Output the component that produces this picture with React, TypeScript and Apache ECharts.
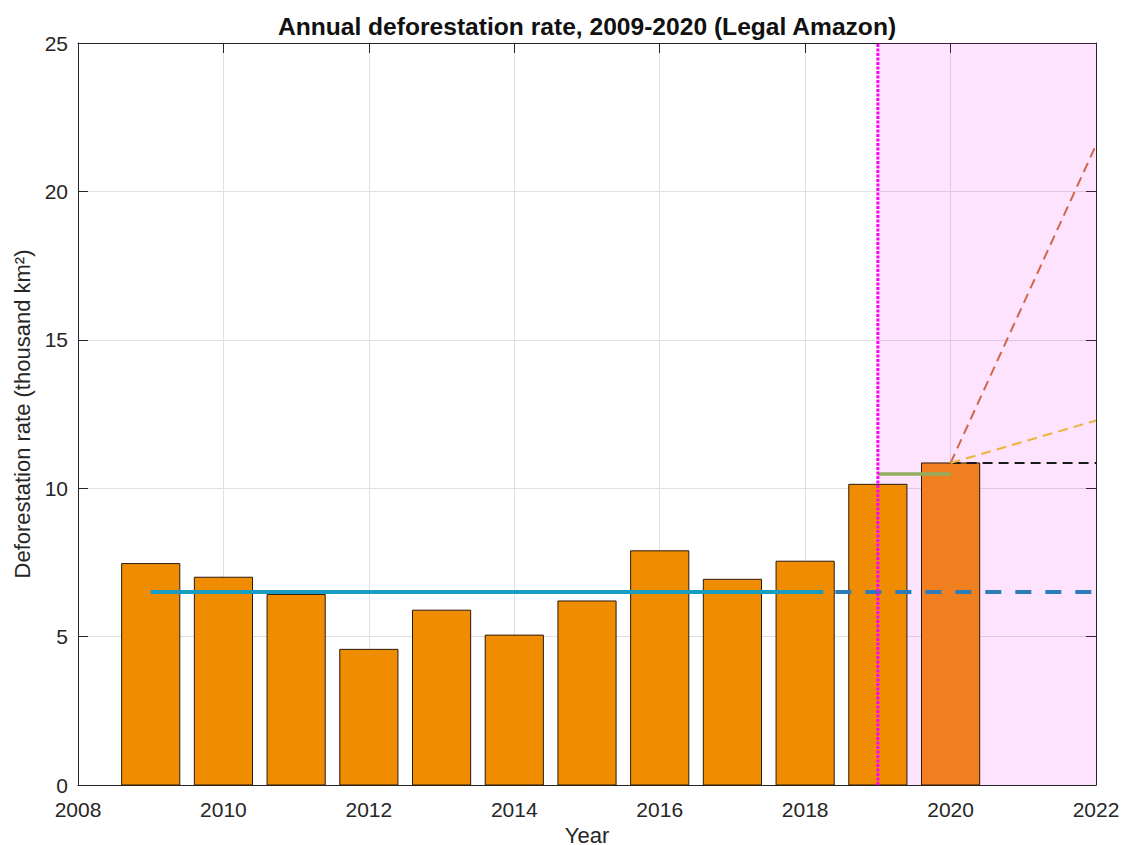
import React, { useEffect, useRef } from "react";
import * as echarts from "echarts";

const years = [2009, 2010, 2011, 2012, 2013, 2014, 2015, 2016, 2017, 2018, 2019, 2020];
const rates = [7.46, 7.0, 6.42, 4.57, 5.89, 5.05, 6.2, 7.89, 6.93, 7.54, 10.13, 10.85];
const barColors = [
  "#f08c00", "#f08c00", "#f08c00", "#f08c00", "#f08c00", "#f08c00",
  "#f08c00", "#f08c00", "#f08c00", "#f08c00", "#f08c00", "#ef7f1f",
];
const xTicks = [2008, 2022];
const yTicks = [0, 25];
const meanSolid: [number, number][] = [[2009, 6.5], [2018.25, 6.5]];
const meanDashed: [number, number][] = [[2018.25, 6.5], [2022, 6.5]];
const recentMean: [number, number][] = [[2019, 10.48], [2020, 10.48]];
const flatProj: [number, number][] = [[2020, 10.85], [2022, 10.85]];
const highProj: [number, number][] = [[2020, 10.85], [2022, 21.56]];
const midProj: [number, number][] = [[2020, 10.85], [2022, 12.28]];
const markerLine: [number, number][] = [[2019, 0], [2019, 25]];
const shadedSpan: [number, number][] = [[2019, 2022]];

const FONT = "'Liberation Sans', Arial, Helvetica, sans-serif";
const TXT = "#262626";

export default function App() {
  const ref = useRef<HTMLDivElement>(null);
  useEffect(() => {
    if (!ref.current) return;
    const chart = echarts.init(ref.current, undefined, { renderer: "svg" });
    const lineBase = {
      type: "line" as const,
      showSymbol: false,
      symbol: "none",
      silent: true,
      z: 5,
    };
    chart.setOption({
      animation: false,
      backgroundColor: "#ffffff",
      title: {
        text: "Annual deforestation rate, 2009-2020 (Legal Amazon)",
        left: 582,
        top: 9,
        textAlign: "center",
        textStyle: { fontFamily: FONT, fontSize: 24.6, fontWeight: "bold", color: "#111" },
      },
      grid: {
        left: 78, right: 25, top: 43, bottom: 60, show: false,
        outerBoundsMode: "none", containLabel: false,
      },
      xAxis: [
        {
          type: "value",
          min: xTicks[0],
          max: xTicks[1],
          interval: 2,
          name: "Year",
          nameLocation: "middle",
          nameGap: 32,
          nameTextStyle: { fontFamily: FONT, fontSize: 22, color: TXT, lineHeight: 20 },
          axisLine: { show: true, onZero: false, lineStyle: { color: TXT, width: 1 } },
          axisTick: { show: true, inside: true, length: 10, lineStyle: { color: TXT } },
          axisLabel: {
            fontFamily: FONT, fontSize: 21, color: TXT, margin: 15, lineHeight: 18,
            formatter: (v: number) => String(v),
          },
          splitLine: { show: true, lineStyle: { color: "#e0e0e0", width: 1 } },
        },
        {
          type: "value",
          position: "top",
          min: xTicks[0],
          max: xTicks[1],
          interval: 2,
          axisLine: { show: true, onZero: false, lineStyle: { color: TXT, width: 1 } },
          axisTick: { show: true, inside: true, length: 10, lineStyle: { color: TXT } },
          axisLabel: { show: false },
          splitLine: { show: false },
        },
      ],
      yAxis: [
        {
          type: "value",
          min: yTicks[0],
          max: yTicks[1],
          interval: 5,
          name: "Deforestation rate (thousand km²)",
          nameLocation: "middle",
          nameGap: 37,
          nameTextStyle: { fontFamily: FONT, fontSize: 22, color: TXT },
          axisLine: { show: true, onZero: false, lineStyle: { color: TXT, width: 1 } },
          axisTick: { show: true, inside: true, length: 10, lineStyle: { color: TXT } },
          axisLabel: { fontFamily: FONT, fontSize: 21, color: TXT, margin: 10, lineHeight: 16 },
          splitLine: { show: true, lineStyle: { color: "#e0e0e0", width: 1 } },
        },
        {
          type: "value",
          position: "right",
          min: yTicks[0],
          max: yTicks[1],
          interval: 5,
          axisLine: { show: true, onZero: false, lineStyle: { color: TXT, width: 1 } },
          axisTick: { show: true, inside: true, length: 10, lineStyle: { color: TXT } },
          axisLabel: { show: false },
          splitLine: { show: false },
        },
      ],
      series: [
        {
          type: "custom",
          z: 1,
          silent: true,
          data: shadedSpan,
          renderItem: (params: any, api: any) => {
            const p0 = api.coord([api.value(0), yTicks[1]]);
            const p1 = api.coord([api.value(1), yTicks[0]]);
            return {
              type: "rect",
              shape: { x: p0[0], y: p0[1], width: p1[0] - p0[0], height: p1[1] - p0[1] },
              style: { fill: "rgba(240, 0, 240, 0.11)" },
            };
          },
        },
        {
          type: "custom",
          z: 3,
          silent: true,
          data: years.map((y, i) => [y, rates[i]]),
          renderItem: (params: any, api: any) => {
            const x = api.value(0);
            const v = api.value(1);
            const p0 = api.coord([x - 0.4, v]);
            const p1 = api.coord([x + 0.4, 0]);
            return {
              type: "rect",
              shape: { x: p0[0], y: p0[1], width: p1[0] - p0[0], height: p1[1] - p0[1] },
              style: { fill: barColors[params.dataIndex], stroke: "#2a1a10", lineWidth: 1 },
            };
          },
        },
        { ...lineBase, data: meanSolid, lineStyle: { color: "#1a9cc0", width: 4, type: "solid" } },
        {
          ...lineBase, data: meanDashed,
          lineStyle: { color: "#2a7db8", width: 4, type: [16, 14], dashOffset: 18 },
        },
        { ...lineBase, data: recentMean, lineStyle: { color: "#93ac5e", width: 3.5, type: "solid" } },
        { ...lineBase, data: flatProj, lineStyle: { color: "#1a1a1a", width: 2, type: [10, 6] } },
        { ...lineBase, data: highProj, lineStyle: { color: "#d2674a", width: 2, type: [10, 6] } },
        { ...lineBase, data: midProj, lineStyle: { color: "#ebb43c", width: 2, type: [10, 6] } },
        { ...lineBase, z: 6, data: markerLine, lineStyle: { color: "#ff00ff", width: 3, type: [3, 1.5] } },
      ],
    });
    return () => chart.dispose();
  }, []);
  return (
    <div
      ref={ref}
      style={{ position: "fixed", left: 0, top: 0, width: 1121, height: 845 }}
    />
  );
}
